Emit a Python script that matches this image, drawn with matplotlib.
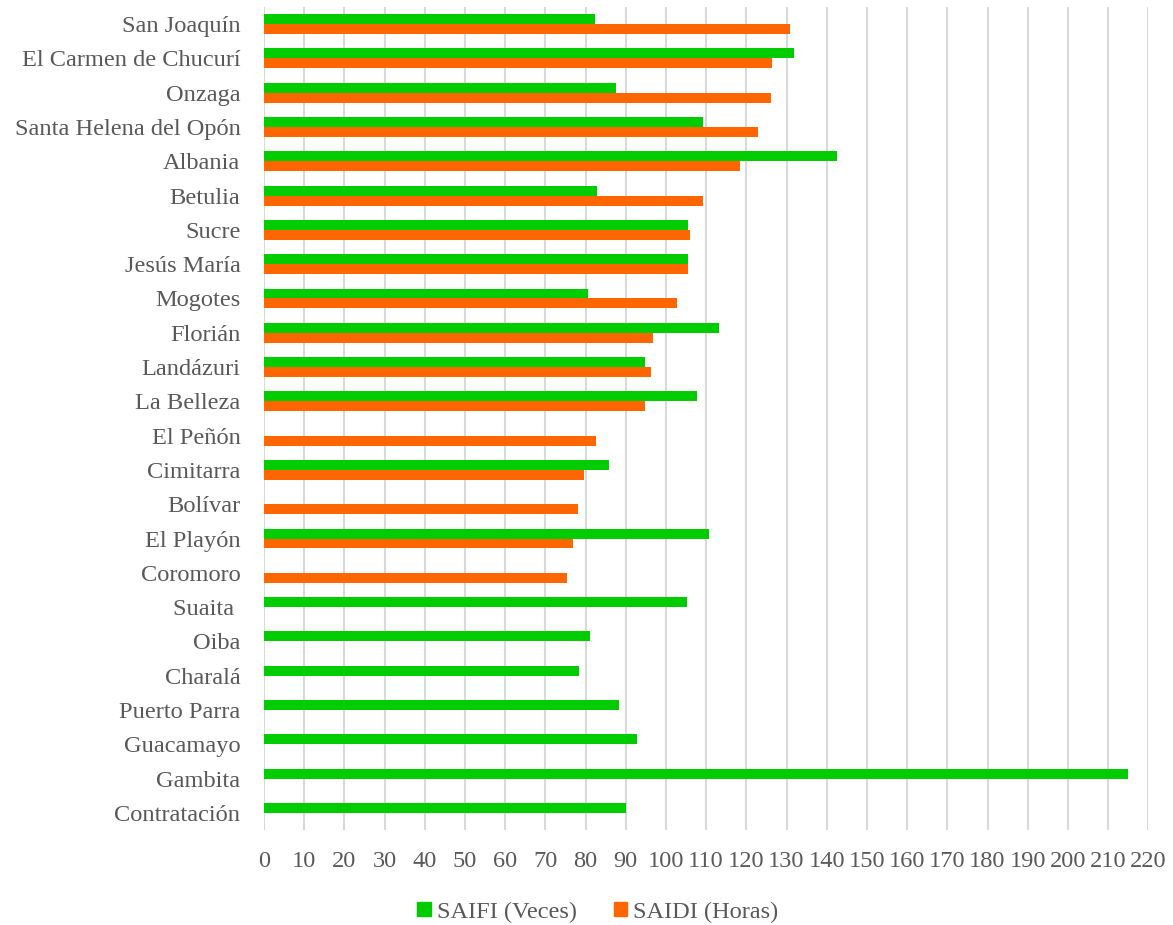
import matplotlib
matplotlib.use("Agg")
import matplotlib.pyplot as plt
from matplotlib.patches import Patch
import numpy as np

categories = ["San Joaquín", "El Carmen de Chucurí", "Onzaga", "Santa Helena del Opón",
              "Albania", "Betulia", "Sucre", "Jesús María", "Mogotes", "Florián",
              "Landázuri", "La Belleza", "El Peñón", "Cimitarra", "Bolívar", "El Playón",
              "Coromoro", "Suaita ", "Oiba", "Charalá", "Puerto Parra", "Guacamayo",
              "Gambita", "Contratación"]
saifi = [82.3, 131.9, 87.6, 109.3, 142.6, 82.8, 105.5, 105.6, 80.5, 113.2,
         94.7, 107.8, 0, 85.8, 0, 110.8, 0, 105.2, 81.1, 78.4, 88.2, 92.8,
         214.9, 90.0]
saidi = [130.9, 126.4, 126.1, 123.0, 118.3, 109.2, 106.0, 105.6, 102.8, 96.8,
         96.4, 94.9, 82.7, 79.5, 78.0, 76.8, 75.3, 0, 0, 0, 0, 0, 0, 0]
xticks = list(range(0, 221, 10))
series_names = ["SAIFI (Veces)", "SAIDI (Horas)"]

GREEN = "#00CC00"
ORANGE = "#FF6600"
TXT = "#595959"
FONT = "Liberation Serif"
FS = 17.6

fig = plt.figure(figsize=(11.73, 9.25), dpi=100)
ax = fig.add_axes([264/1173, 1-830/925, (1148.3-264)/1173, (830-7)/925])

y = np.arange(len(categories))
h = 0.29
ax.barh(y - h/2, saifi, height=h, color=GREEN, zorder=3)
ax.barh(y + h/2, saidi, height=h, color=ORANGE, zorder=3)

ax.set_xlim(0, 220)
ax.set_ylim(len(categories) - 0.5, -0.5)
ax.set_xticks(xticks)
ax.set_xticklabels([str(t) for t in xticks], fontfamily=FONT, fontsize=FS, color=TXT)
ax.set_yticks(y)
ax.set_yticklabels(categories, fontfamily=FONT, fontsize=FS, color=TXT)
ax.tick_params(axis="both", length=0)
ax.tick_params(axis="x", pad=15)
ax.tick_params(axis="y", pad=17)
for s in ax.spines.values():
    s.set_visible(False)
ax.grid(axis="x", color="#D9D9D9", linewidth=1.5, zorder=0)
ax.set_axisbelow(True)

handles = [Patch(color=GREEN, label=series_names[0]), Patch(color=ORANGE, label=series_names[1])]
fig.legend(handles=handles, loc="center", bbox_to_anchor=(598/1173, 1-912/925), ncol=2,
           frameon=False, prop={"family": FONT, "size": FS}, labelcolor=TXT,
           handlelength=0.55, handleheight=0.55, handletextpad=0.25, columnspacing=1.5)

fig.savefig("out.png", dpi=100)
